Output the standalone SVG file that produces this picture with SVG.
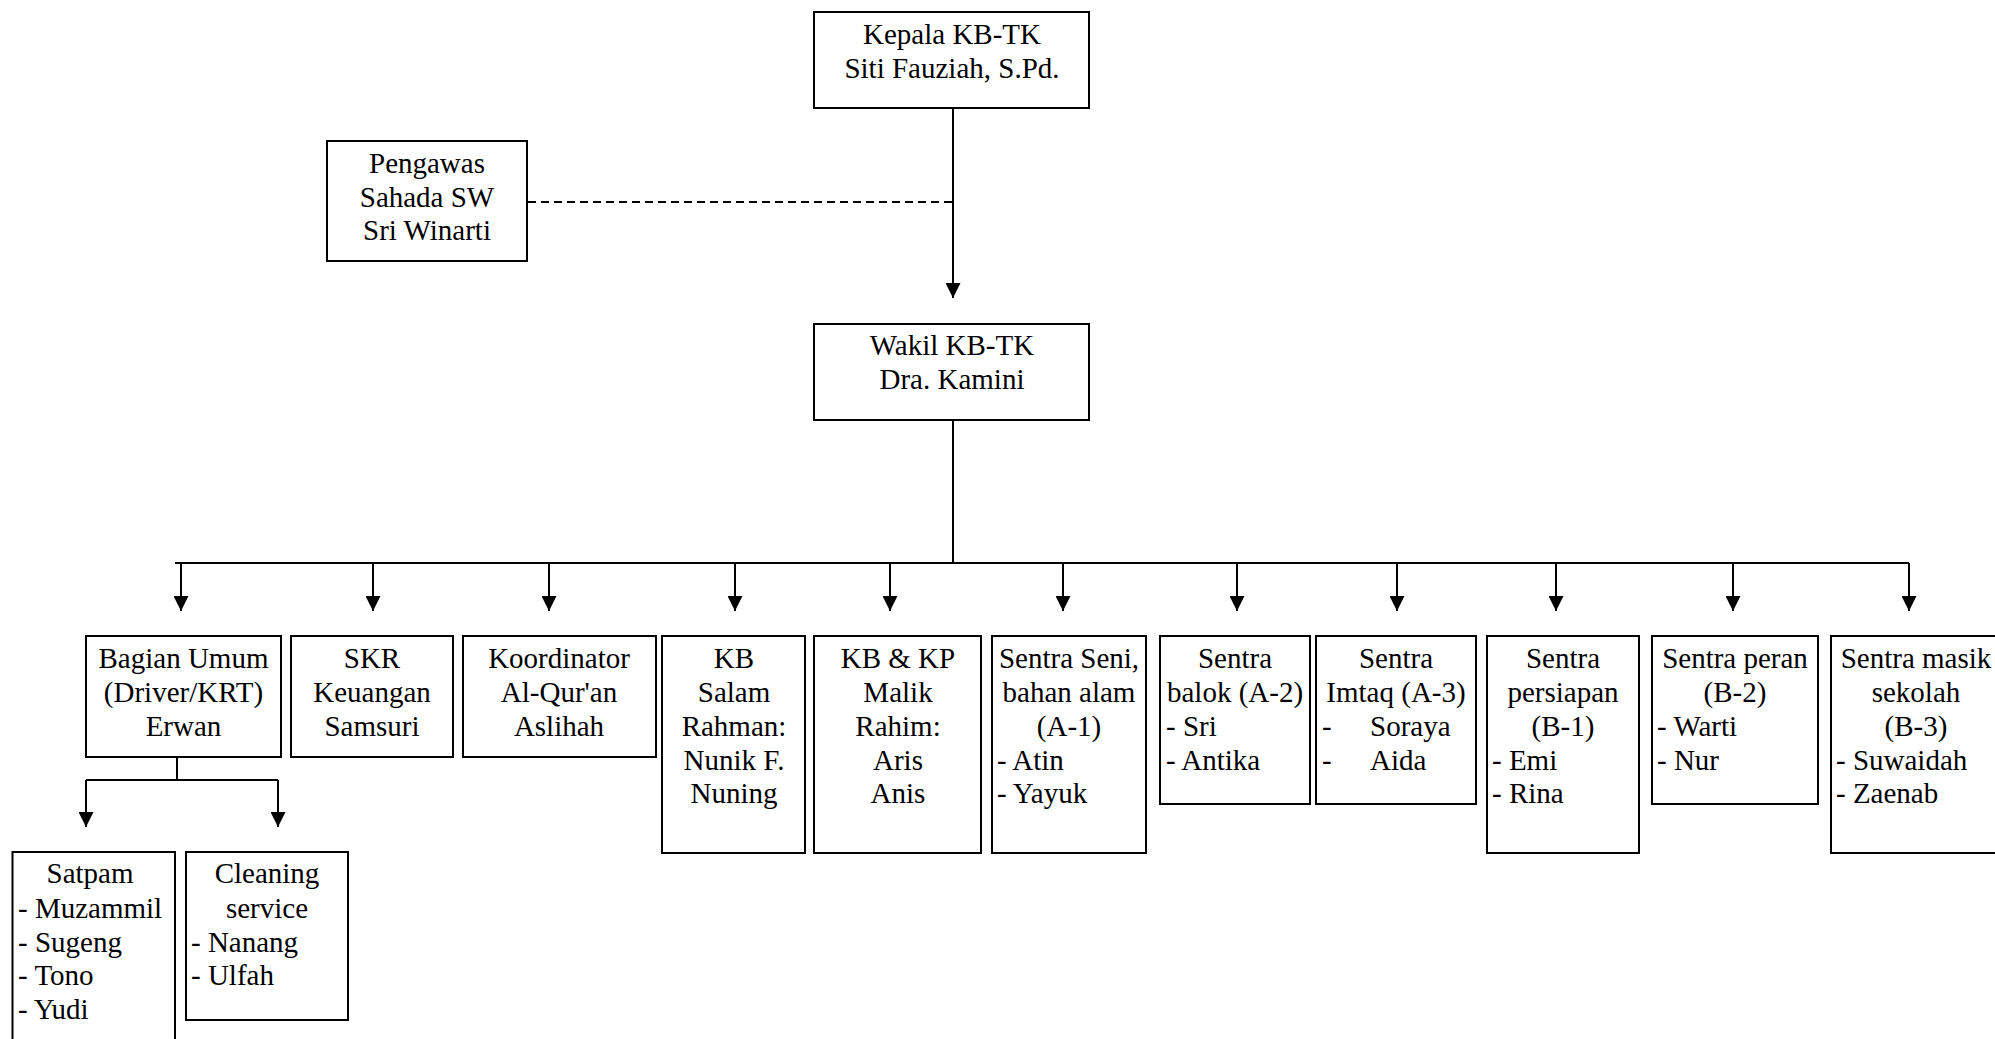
<svg xmlns="http://www.w3.org/2000/svg" width="1995" height="1039" viewBox="0 0 1995 1039">
<style>
.box{fill:#fff;stroke:#000;stroke-width:2}
.ln{fill:none;stroke:#000;stroke-width:2}
.ar{fill:none;stroke:#000;stroke-width:2;marker-end:url(#ah)}
.dash{fill:none;stroke:#000;stroke-width:2;stroke-dasharray:8 5}
text{font-family:"Liberation Serif","Times New Roman",serif;font-size:29px;fill:#000}
.c{text-anchor:middle}
</style>
<defs>
<marker id="ah" viewBox="0 0 15 15" refX="15" refY="7.5" markerWidth="15" markerHeight="15" markerUnits="userSpaceOnUse" orient="auto">
<path d="M0,0 L15,7.5 L0,15 z" fill="#000"/>
</marker>
</defs>
<rect width="1995" height="1039" fill="#fff"/>
<g id="connectors">
<line class="ar" x1="953" y1="108" x2="953" y2="298"/>
<line class="dash" x1="528" y1="202" x2="953" y2="202"/>
<line class="ln" x1="953" y1="420" x2="953" y2="563"/>
<line class="ln" x1="175" y1="563" x2="1909" y2="563"/>
<line class="ar" x1="181" y1="563" x2="181" y2="611"/>
<line class="ar" x1="373" y1="563" x2="373" y2="611"/>
<line class="ar" x1="549" y1="563" x2="549" y2="611"/>
<line class="ar" x1="735" y1="563" x2="735" y2="611"/>
<line class="ar" x1="890" y1="563" x2="890" y2="611"/>
<line class="ar" x1="1063" y1="563" x2="1063" y2="611"/>
<line class="ar" x1="1237" y1="563" x2="1237" y2="611"/>
<line class="ar" x1="1397" y1="563" x2="1397" y2="611"/>
<line class="ar" x1="1556" y1="563" x2="1556" y2="611"/>
<line class="ar" x1="1733" y1="563" x2="1733" y2="611"/>
<line class="ar" x1="1909" y1="563" x2="1909" y2="611"/>
<polyline class="ln" points="177,757 177,780"/>
<line class="ln" x1="86" y1="780" x2="278" y2="780"/>
<line class="ar" x1="86" y1="780" x2="86" y2="827"/>
<line class="ar" x1="278" y1="780" x2="278" y2="827"/>
</g>
<g id="kepala">
<rect class="box" x="814" y="12" width="275" height="96"/>
<text class="c" x="952" y="44">Kepala KB-TK</text>
<text class="c" x="952" y="78">Siti Fauziah, S.Pd.</text>
</g>
<g id="pengawas">
<rect class="box" x="327" y="141" width="200" height="120"/>
<text class="c" x="427" y="173">Pengawas</text>
<text class="c" x="427" y="207">Sahada SW</text>
<text class="c" x="427" y="240">Sri Winarti</text>
</g>
<g id="wakil">
<rect class="box" x="814" y="324" width="275" height="96"/>
<text class="c" x="952" y="355">Wakil KB-TK</text>
<text class="c" x="952" y="389">Dra. Kamini</text>
</g>
<g id="bagian-umum">
<rect class="box" x="86" y="636" width="195" height="121"/>
<text class="c" x="183.5" y="668">Bagian Umum</text>
<text class="c" x="183.5" y="702">(Driver/KRT)</text>
<text class="c" x="183.5" y="736">Erwan</text>
</g>
<g id="skr">
<rect class="box" x="291" y="636" width="162" height="121"/>
<text class="c" x="372" y="668">SKR</text>
<text class="c" x="372" y="702">Keuangan</text>
<text class="c" x="372" y="736">Samsuri</text>
</g>
<g id="koordinator">
<rect class="box" x="463" y="636" width="193" height="121"/>
<text class="c" x="559" y="668">Koordinator</text>
<text class="c" x="559" y="702">Al-Qur'an</text>
<text class="c" x="559" y="736">Aslihah</text>
</g>
<g id="kb-salam">
<rect class="box" x="662" y="636" width="143" height="217"/>
<text class="c" x="734" y="668">KB</text>
<text class="c" x="734" y="702">Salam</text>
<text class="c" x="734" y="736">Rahman:</text>
<text class="c" x="734" y="770">Nunik F.</text>
<text class="c" x="734" y="803">Nuning</text>
</g>
<g id="kb-kp-malik">
<rect class="box" x="814" y="636" width="167" height="217"/>
<text class="c" x="898" y="668">KB &amp; KP</text>
<text class="c" x="898" y="702">Malik</text>
<text class="c" x="898" y="736">Rahim:</text>
<text class="c" x="898" y="770">Aris</text>
<text class="c" x="898" y="803">Anis</text>
</g>
<g id="sentra-seni">
<rect class="box" x="992" y="636" width="154" height="217"/>
<text class="c" x="1069" y="668">Sentra Seni,</text>
<text class="c" x="1069" y="702">bahan alam</text>
<text class="c" x="1069" y="736">(A-1)</text>
<text x="997" y="770">- Atin</text>
<text x="997" y="803">- Yayuk</text>
</g>
<g id="sentra-balok">
<rect class="box" x="1160" y="636" width="150" height="168"/>
<text class="c" x="1235" y="668">Sentra</text>
<text class="c" x="1235" y="702">balok (A-2)</text>
<text x="1166" y="736">- Sri</text>
<text x="1166" y="770">- Antika</text>
</g>
<g id="sentra-imtaq">
<rect class="box" x="1316" y="636" width="160" height="168"/>
<text class="c" x="1396" y="668">Sentra</text>
<text class="c" x="1396" y="702">Imtaq (A-3)</text>
<text y="736"><tspan x="1322">-</tspan><tspan x="1370">Soraya</tspan></text>
<text y="770"><tspan x="1322">-</tspan><tspan x="1370">Aida</tspan></text>
</g>
<g id="sentra-persiapan">
<rect class="box" x="1487" y="636" width="152" height="217"/>
<text class="c" x="1563" y="668">Sentra</text>
<text class="c" x="1563" y="702">persiapan</text>
<text class="c" x="1563" y="736">(B-1)</text>
<text x="1492" y="770">- Emi</text>
<text x="1492" y="803">- Rina</text>
</g>
<g id="sentra-peran">
<rect class="box" x="1652" y="636" width="166" height="168"/>
<text class="c" x="1735" y="668">Sentra peran</text>
<text class="c" x="1735" y="702">(B-2)</text>
<text x="1657" y="736">- Warti</text>
<text x="1657" y="770">- Nur</text>
</g>
<g id="sentra-masik">
<rect class="box" x="1831" y="636" width="180" height="217"/>
<text class="c" x="1916" y="668">Sentra masik</text>
<text class="c" x="1916" y="702">sekolah</text>
<text class="c" x="1916" y="736">(B-3)</text>
<text x="1836" y="770">- Suwaidah</text>
<text x="1836" y="803">- Zaenab</text>
</g>
<g id="satpam">
<rect class="box" x="12.5" y="852" width="162.5" height="200"/>
<text class="c" x="90" y="883">Satpam</text>
<text x="18" y="918">- Muzammil</text>
<text x="18" y="952">- Sugeng</text>
<text x="18" y="985">- Tono</text>
<text x="18" y="1019">- Yudi</text>
</g>
<g id="cleaning-service">
<rect class="box" x="186" y="852" width="162" height="168"/>
<text class="c" x="267" y="883">Cleaning</text>
<text class="c" x="267" y="918">service</text>
<text x="191" y="952">- Nanang</text>
<text x="191" y="985">- Ulfah</text>
</g>
</svg>
